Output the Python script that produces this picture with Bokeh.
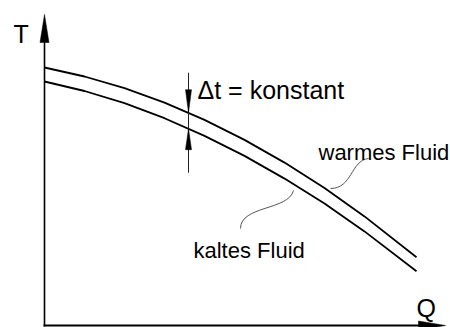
from bokeh.plotting import figure
from bokeh.models import Range1d
from bokeh.embed import file_html
from bokeh.resources import INLINE
from bokeh.core.properties import value

# ---- data (Q, T in drawing units; origin at the axes' corner) ----
q_points = [0, 40, 80, 120, 160, 200, 240, 280, 320, 372]
t_warm = [258, 249, 237.3, 222.8, 205.6, 185.6, 162.9, 137.4, 109.1, 68.3]
t_cold = [244, 234.5, 222.3, 207.3, 189.6, 169.6, 146.9, 121.9, 94.1, 54.3]

# constant-difference marker position
dt_q = 144
dt_warm = 212.8
dt_cold = 196.8

# axis extents
q_axis_end = 401
t_axis_end = 311

labels_axis = ["T", "Q"]
label_dt = "Δt = konstant"
label_warm = "warmes Fluid"
label_cold = "kaltes Fluid"

FONT = value("Liberation Sans")

p = figure(width=450, height=327, output_backend="svg", toolbar_location=None,
           x_range=Range1d(-44, 406), y_range=Range1d(-2, 325),
           min_border=0, min_border_left=0, min_border_right=0,
           min_border_top=0, min_border_bottom=0)
p.axis.visible = False
p.grid.visible = False
p.outline_line_color = None
p.background_fill_color = "white"
p.border_fill_color = "white"

# axes with arrows
p.line([0, 0], [-1, t_axis_end - 20], line_color="black", line_width=1.6)
p.line([-1, q_axis_end - 20], [0, 0], line_color="black", line_width=1.8)
p.patch([-4.5, 4.5, 0], [t_axis_end - 28, t_axis_end - 28, t_axis_end],
        fill_color="black", line_color="black", line_width=0.5)
p.patch([q_axis_end - 27, q_axis_end - 27, q_axis_end], [-4.5, 4.5, 0],
        fill_color="black", line_color="black", line_width=0.5)

# fluid curves
p.line(q_points, t_warm, line_color="black", line_width=1.8)
p.line(q_points, t_cold, line_color="black", line_width=1.8)

# delta-t marker
p.line([dt_q, dt_q], [dt_cold - 44, dt_warm + 40], line_color="#222222", line_width=1)
p.patch([dt_q - 3, dt_q + 3, dt_q], [dt_warm + 23, dt_warm + 23, dt_warm],
        fill_color="black", line_color="black", line_width=0.5)
p.patch([dt_q - 3, dt_q + 3, dt_q], [dt_cold - 21, dt_cold - 21, dt_cold],
        fill_color="black", line_color="black", line_width=0.5)

# leader lines
p.bezier(x0=[286, 249], y0=[137, 135], x1=[324, 196], y1=[167, 97],
         cx0=[308, 244], cy0=[137, 115], cx1=[306, 196], cy1=[165, 120],
         line_color="#555555", line_width=1)

# texts
p.text(x=[-31, 372], y=[292, 18], text=labels_axis, text_font=FONT,
       text_font_size="25px", text_baseline="alphabetic", text_align="left",
       text_color="black")
p.text(x=[153], y=[236], text=[label_dt], text_font=FONT,
       text_font_size="25px", text_baseline="alphabetic", text_align="left",
       text_color="black")
p.text(x=[274, 149], y=[173, 75], text=[label_warm, label_cold], text_font=FONT,
       text_font_size="22px", text_baseline="alphabetic", text_align="left",
       text_color="black")

open("out.html", "w").write(file_html(p, INLINE))
